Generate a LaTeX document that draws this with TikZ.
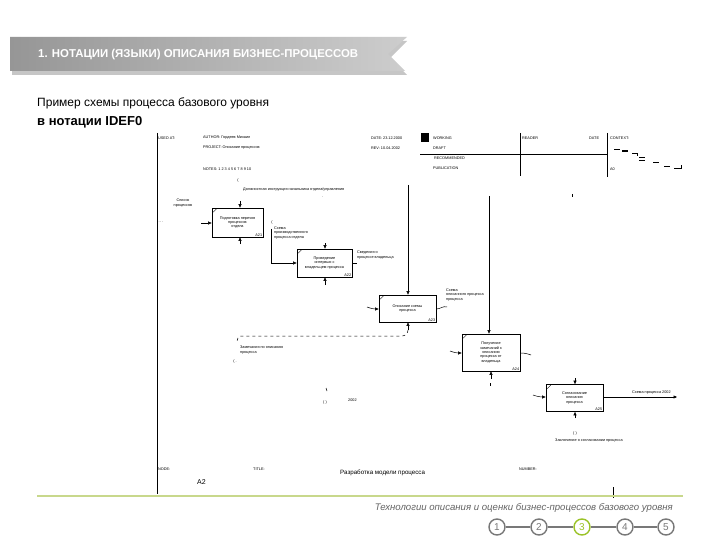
\documentclass[tikz,border=0pt]{standalone}
\usepackage{fontspec}
\setmainfont{Liberation Sans}
\usetikzlibrary{arrows.meta,calc}
\definecolor{bandL}{RGB}{150,150,150}
\definecolor{bandR}{RGB}{205,205,205}
\definecolor{footgreen}{RGB}{200,216,140}
\definecolor{navgreen}{RGB}{155,195,40}
\definecolor{navgray}{RGB}{120,120,120}
\definecolor{foottext}{RGB}{100,100,100}
\newcommand\tinyf{\fontsize{3.8}{4.4}\selectfont}
\begin{document}
\begin{tikzpicture}[x=1pt,y=-1pt,
  abox/.style={draw, line width=0.7pt, inner sep=1pt, align=center, font=\tinyf},
  lab/.style={font=\tinyf, align=left, inner sep=0pt, anchor=west},
  hdr/.style={font=\tinyf, inner sep=0pt, anchor=west},
  arr/.style={-{Triangle[length=3.5pt,width=3pt]}, line width=0.5pt},
  ln/.style={line width=0.5pt},
  frame/.style={line width=1pt},
  navc/.style={circle, draw=navgray, line width=1.4pt, minimum size=16pt, inner sep=0pt, text=navgray, font=\fontsize{10}{10}\selectfont}
]
\useasboundingbox (0,0) rectangle (720,540);
\fill[white] (0,0) rectangle (720,540);

% ---- banner ----
\fill[gray!45] (12,41) -- (407,41) -- (390,58) -- (407,75) -- (12,75) -- cycle;
\shade[left color=bandL, right color=bandR] (10,37) -- (407,37) -- (388,54) -- (405,71) -- (10,71) -- cycle;
\node[font=\bfseries\fontsize{11.4}{11.4}\selectfont, text=white, anchor=west, inner sep=0pt] (bannertxt) at (38,55) {1. НОТАЦИИ (ЯЗЫКИ) ОПИСАНИЯ БИЗНЕС-ПРОЦЕССОВ};

% ---- title ----
\node[font=\fontsize{12}{12}\selectfont, anchor=west, inner sep=0pt] (t1) at (37,103) {Пример схемы процесса базового уровня};
\node[font=\bfseries\fontsize{13}{13}\selectfont, anchor=west, inner sep=0pt] (t2) at (37,122) {в нотации IDEF0};

% ---- IDEF0 frame ----
\draw[frame] (157,133) -- (157,494);
\draw[ln] (420,154) -- (607,154);
\draw[ln] (520,133) -- (520,176);
\draw[ln] (607,133) -- (607,177);
\fill (421,133) rectangle (429,142);

\node[hdr] (usedat) at (158,138) {USED AT:};
\node[hdr] (author) at (203,138) {AUTHOR: Гордеев Михаил};
\node[hdr] (project) at (203,148) {PROJECT: Описание процессов};
\node[hdr] (notes) at (203,169) {NOTES: 1 2 3 4 5 6 7 8 9 10};
\node[hdr] (date) at (371,138) {DATE: 23.12.2000};
\node[hdr] (rev) at (371,148) {REV: 10.04.2002};
\node[hdr] (working) at (433,138) {WORKING};
\node[hdr] (draft) at (433,148) {DRAFT};
\node[hdr] (recom) at (434,158) {RECOMMENDED};
\node[hdr] (publ) at (433,168) {PUBLICATION};
\node[hdr] (reader) at (522,138) {READER};
\node[hdr] (rdate) at (589,138) {DATE};
\node[hdr] (context) at (610,138) {CONTEXT:};
\node[hdr] (ctxa0) at (610,169) {A0};
% context staircase
\draw[ln] (614,149) -- (620,149);
\draw[line width=1.2pt] (622,151) -- (628,151);
\draw[ln] (632,153) -- (637,153) -- (637,156);
\draw[ln] (639,157) -- (645,157);
\draw[ln] (639,160) -- (645,160);
\draw[ln] (653,162) -- (659,162);
\draw[ln] (664,166) -- (670,166);
\draw[ln] (674,168) -- (681,168) -- (681,165);

\node[hdr] (nodelbl) at (158,469) {NODE:};
\node[hdr] (titlelbl) at (253,469) {TITLE:};
\node[hdr] (numlbl) at (519,469) {NUMBER:};
\node[font=\fontsize{6.2}{6.2}\selectfont, anchor=west, inner sep=0pt] (titletxt) at (340,473) {Разработка модели процесса};
\node[font=\fontsize{7}{7}\selectfont, anchor=west, inner sep=0pt] (nodea2) at (197,482) {A2};
\draw[ln] (613,487) -- (613,498);

% ---- activity boxes ----
\node[abox, minimum width=51pt, minimum height=29pt] (b1) at (237.5,222.5) {Подготовка перечня\\процессов\\отдела};
\node[abox, minimum width=55pt, minimum height=28pt] (b2) at (324.5,263) {Проведение\\интервью с\\владельцем процесса};
\node[abox, minimum width=57pt, minimum height=27pt] (b3) at (407.5,308.5) {Описание схемы\\процесса};
\node[abox, minimum width=58pt, minimum height=37pt] (b4) at (491,352.5) {Получение\\замечаний к\\описанию\\процесса от\\владельца};
\node[abox, minimum width=57pt, minimum height=27pt] (b5) at (574.5,398) {Согласование\\описания\\процесса};

\foreach \b/\n in {b1/А21,b2/А22,b3/А23,b4/А24,b5/А25}{
  \node[font=\tinyf, inner sep=1pt, anchor=south east] (\b n) at (\b.south east) {\n};
  \draw[line width=0.4pt] ($(\b.north west)+(1.5,4.5)$) -- ++(3.5,-3.5);
}

% ---- connectors ----
% box 1
\coordinate (c1) at (240,201);
\draw[arr] (c1) -- (b1.north -| c1);
\coordinate (i1) at (201,223);
\draw[arr] (i1) -- (b1.west |- i1);
\coordinate (m1) at (240,244);
\draw[arr] (m1) -- (b1.south -| m1);
\node[lab] (c1lab) at (243,190) {Должностная инструкция начальника отдела/управления};
\node[font=\tinyf, inner sep=0pt] (c1t) at (238,181) {(};
\node[font=\tinyf, inner sep=0pt] (c1d) at (323,197) {.};
\node[lab, align=center, anchor=center] (i1lab) at (183,203) {Список\\процессов};
\node[font=\tinyf, inner sep=0pt] (i1t) at (161,222) {.. .};
% box 1 -> box 2
\coordinate (o1) at (271,229);
\draw[arr] (o1) |- (b2.west);
\node[font=\tinyf, inner sep=0pt] (o1t) at (272,223) {(};
\node[lab] (o1lab) at (274,233) {Схема\\производственного\\процесса отдела};

% box 2
\coordinate (c2) at (325,243);
\draw[arr] (c2) -- (b2.north -| c2);
\coordinate (m2) at (325,285);
\draw[arr] (m2) -- (b2.south -| m2);
\coordinate (o2) at (357,263);
\draw[ln] (b2.east) -- (o2);
\node[lab] (o2lab) at (357,255) {Сведения о\\процессе владельца};

% box 3
\coordinate (c3) at (408,185);
\draw[arr] (c3) -- (b3.north -| c3);
\coordinate (i3) at (367,307);
\draw[arr] (i3) to[out=-20,in=180] (b3.west |- 0,309);
\coordinate (o3) at (447,307);
\draw[ln] (b3.east |- 0,309) to[out=0,in=160] (o3);
\node[lab] (o3lab) at (446,295) {Схема\\описанного процесса\\процесса};
\coordinate (m3) at (408,330);
\draw[arr] (m3) -- (b3.south -| m3);
\coordinate (d1) at (237,343);
\draw[ln, dashed] (m3) to[out=-90,in=0] (402,336) -- (241,336) to[out=180,in=90] (d1);
\node[lab] (d1lab) at (240,350) {Замечания по описанию\\процесса};
\node[font=\tinyf, inner sep=0pt] (d1t) at (235,362) {( .};

% box 4
\coordinate (c4) at (489,196);
\draw[arr] (c4) -- (b4.north -| c4);
\coordinate (i4) at (450,351);
\draw[arr] (i4) to[out=-20,in=180] (b4.west |- 0,353);
\coordinate (o4) at (531,355);
\draw[ln] (b4.east |- 0,353) to[out=0,in=160] (o4);
\coordinate (m4) at (491,379);
\draw[arr] (m4) -- (b4.south -| m4);
\draw[ln] (490,383) -- (490,386);

% box 5
\coordinate (c5) at (575,378);
\draw[arr] (c5) -- (b5.north -| c5);
\coordinate (i5) at (533,395);
\draw[arr] (i5) to[out=-20,in=180] (b5.west |- 0,397);
\coordinate (o5) at (677,397);
\draw[arr] (b5.east |- 0,397) -- (o5);
\node[lab] (o5lab) at (632,393) {Схема процесса 2002};
\coordinate (m5) at (575,418);
\draw[arr] (m5) -- (b5.south -| m5);
\node[font=\tinyf, inner sep=0pt] (m5t) at (575,434) {( )};
\node[lab] (m5lab) at (555,441) {Заключение о согласовании процесса};

% misc tunnel marks
\node[font=\tinyf, inner sep=0pt] (x1t) at (325,403) {( )};
\draw[ln] (326,388) -- (327,391);
\node[lab] (x1lab) at (348,400) {2002};
\draw[ln] (572,194) -- (572,197);

% ---- footer ----
\draw[footgreen, line width=2pt] (37,496) -- (683,496);
\node[font=\itshape\fontsize{9.6}{9.6}\selectfont, text=foottext, anchor=east, inner sep=0pt] (foot) at (673,508) {Технологии описания и оценки бизнес-процессов базового уровня};

\node[navc] (n1) at (497,527) {1};
\node[navc] (n2) at (539,527) {2};
\node[navc, draw=navgreen, text=navgreen] (n3) at (582,527) {3};
\node[navc] (n4) at (625,527) {4};
\node[navc] (n5) at (666,527) {5};
\draw[navgray, line width=1.4pt] (n1) -- (n2);
\draw[navgray, line width=1.4pt] (n2) -- (n3);
\draw[navgray, line width=1.4pt] (n3) -- (n4);
\draw[navgray, line width=1.4pt] (n4) -- (n5);
\end{tikzpicture}
\end{document}
